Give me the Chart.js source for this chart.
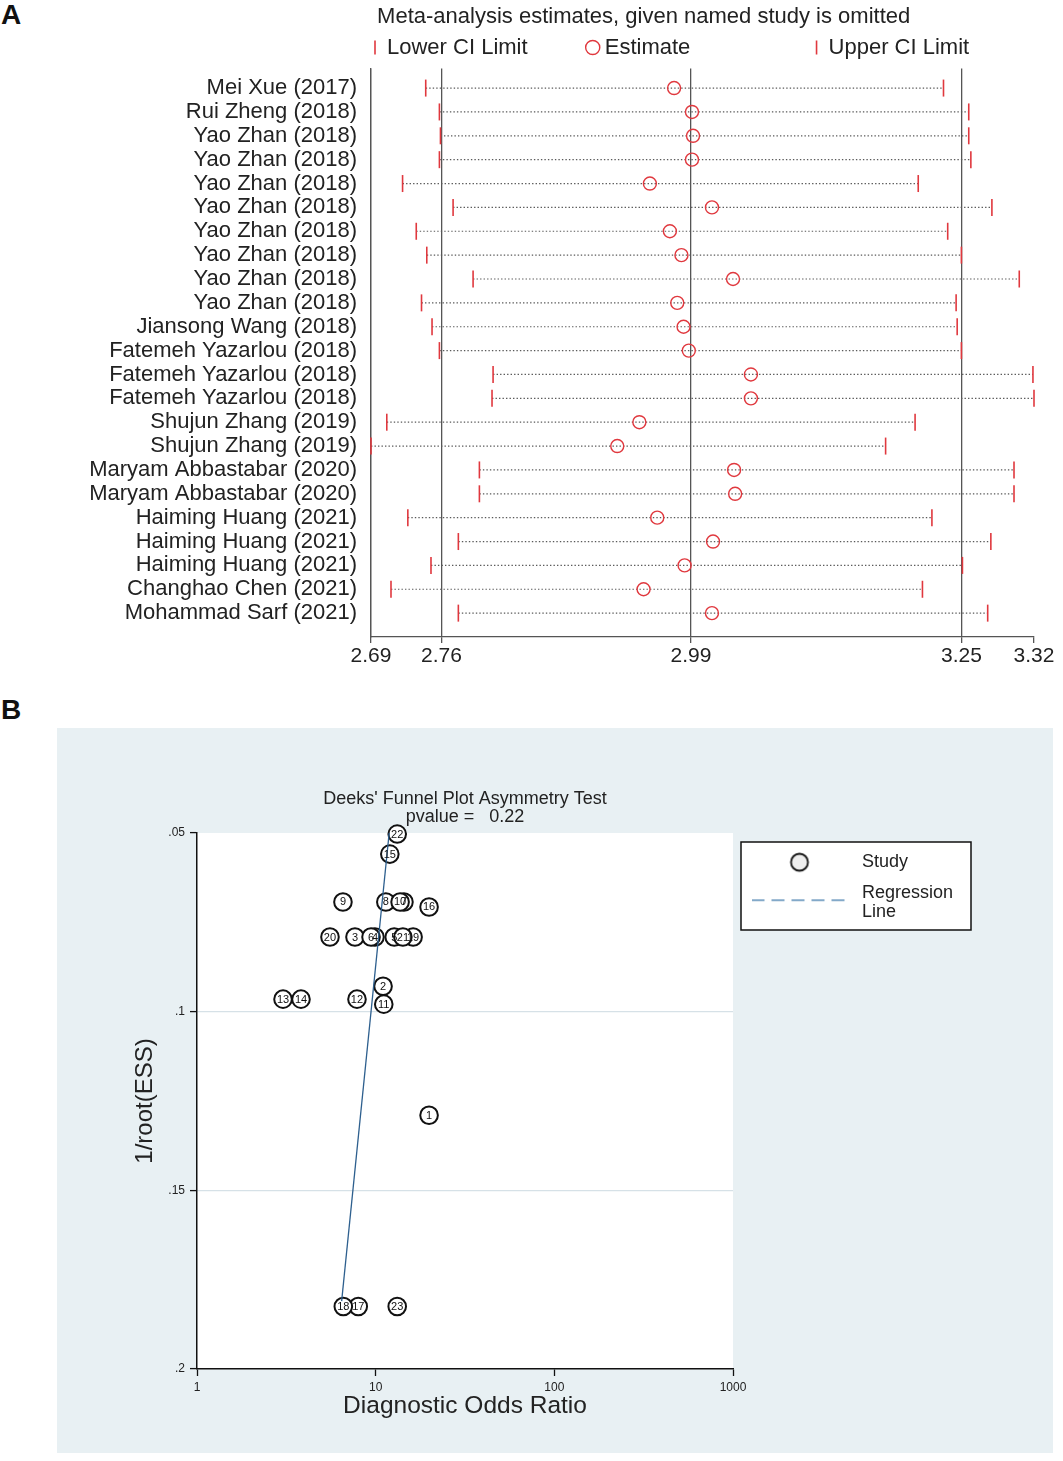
<!DOCTYPE html>
<html><head><meta charset="utf-8">
<script src="https://cdn.jsdelivr.net/npm/chart.js@4.4.0/dist/chart.umd.min.js"></script>
<style>
html,body{margin:0;padding:0;background:#fff;width:1063px;height:1461px;overflow:hidden;font-family:"Liberation Sans",Arial,sans-serif;}
.panel-label{position:absolute;font-weight:bold;font-size:28px;line-height:28px;color:#111;}
#wrapA{position:absolute;left:0;top:0;width:1063px;height:690px;}
#wrapB{position:absolute;left:57px;top:728px;width:996px;height:725px;}
</style></head><body>
<div class="panel-label" style="left:1px;top:1px">A</div>
<div class="panel-label" style="left:1px;top:696px">B</div>
<div id="wrapA"><canvas id="chartA"></canvas></div>
<div id="wrapB"><canvas id="chartB"></canvas></div>
<script>
// ---------- Panel A data ----------
const studies = ['Mei Xue (2017)','Rui Zheng (2018)','Yao Zhan (2018)','Yao Zhan (2018)','Yao Zhan (2018)','Yao Zhan (2018)','Yao Zhan (2018)','Yao Zhan (2018)','Yao Zhan (2018)','Yao Zhan (2018)','Jiansong Wang (2018)','Fatemeh Yazarlou (2018)','Fatemeh Yazarlou (2018)','Fatemeh Yazarlou (2018)','Shujun Zhang (2019)','Shujun Zhang (2019)','Maryam Abbastabar (2020)','Maryam Abbastabar (2020)','Haiming Huang (2021)','Haiming Huang (2021)','Haiming Huang (2021)','Changhao Chen (2021)','Mohammad Sarf (2021)'];
const lowerCI  = [2.742,2.755,2.756,2.755,2.720,2.768,2.733,2.743,2.787,2.738,2.748,2.755,2.806,2.805,2.705,2.690,2.793,2.793,2.725,2.773,2.747,2.709,2.773];
const estimate = [2.978,2.995,2.996,2.995,2.955,3.014,2.974,2.985,3.034,2.981,2.987,2.992,3.051,3.051,2.945,2.924,3.035,3.036,2.962,3.015,2.988,2.949,3.014];
const upperCI  = [3.234,3.258,3.258,3.260,3.210,3.280,3.238,3.251,3.306,3.246,3.247,3.251,3.319,3.320,3.207,3.179,3.301,3.301,3.223,3.279,3.252,3.214,3.276];
const axisATicks = [2.69, 2.757, 2.994, 3.251, 3.32];
const axisATickLabels = ['2.69','2.76','2.99','3.25','3.32'];

// ---------- Panel B data ----------
const studyIds   = [1,2,3,4,5,6,7,8,9,10,11,12,13,14,15,16,17,18,19,20,21,22,23];
const dor        = [19.9,11.0,7.66,9.91,12.7,9.42,14.4,11.4,6.56,13.7,11.1,7.86,3.03,3.82,12.0,19.9,7.99,6.59,16.2,5.55,14.2,13.2,13.2];
const invRootEss = [0.129,0.0929,0.0791,0.0791,0.0791,0.0791,0.0693,0.0693,0.0693,0.0693,0.0979,0.0965,0.0965,0.0965,0.0559,0.0707,0.1825,0.1825,0.0791,0.0791,0.0791,0.0503,0.1825];
const regDor        = [11.9, 6.45];
const regInvRootEss = [0.05, 0.181];
const yTicksB = [0.05, 0.1, 0.15, 0.2];
const yTickLabelsB = ['.05','.1','.15','.2'];
const xTicksB = [1, 10, 100, 1000];
const xTickLabelsB = ['1','10','100','1000'];

Chart.defaults.font.family = '"Liberation Sans", Arial, sans-serif';
Chart.defaults.color = '#222';
Chart.defaults.animation = false;

const RED = '#e0383e';

// ---------- Chart A ----------
const ciLines = [];
studies.forEach((s, i) => {
  ciLines.push({x: lowerCI[i], y: i}, {x: upperCI[i], y: i}, {x: upperCI[i], y: null});
});

new Chart(document.getElementById('chartA'), {
  type: 'scatter',
  data: {
    datasets: [
      {label: 'Lower CI Limit          ', data: studies.map((s, i) => ({x: lowerCI[i], y: i})),
       pointStyle: 'line', pointRotation: 90, pointRadius: 8.5, pointHoverRadius: 8.5,
       borderColor: RED, backgroundColor: RED, borderWidth: 1.6, clip: false, order: 1},
      {label: 'Estimate                    ', data: studies.map((s, i) => ({x: estimate[i], y: i})),
       pointStyle: 'circle', pointRadius: 6.5, pointHoverRadius: 6.5,
       borderColor: RED, backgroundColor: 'rgba(0,0,0,0)', borderWidth: 1.4, clip: false, order: 1},
      {label: 'Upper CI Limit', data: studies.map((s, i) => ({x: upperCI[i], y: i})),
       pointStyle: 'line', pointRotation: 90, pointRadius: 8.5, pointHoverRadius: 8.5,
       borderColor: RED, backgroundColor: RED, borderWidth: 1.6, clip: false, order: 1},
      {type: 'line', label: 'ci', data: ciLines, borderColor: '#5a5a5a', borderWidth: 1.2,
       borderDash: [1.4, 2.1], pointRadius: 0, spanGaps: false, fill: false, order: 5}
    ]
  },
  options: {
    responsive: true, maintainAspectRatio: false,
    layout: {padding: {left: 0, right: 29, top: 0, bottom: 13}},
    plugins: {
      tooltip: {enabled: false},
      title: {display: true, text: ' Meta-analysis estimates, given named study is omitted',
              align: 'start', fullSize: false, color: '#222',
              font: {size: 22, weight: 'normal'}, padding: {top: 3.8, bottom: 3.3}},
      legend: {display: true, position: 'top', align: 'start', fullSize: false,
               labels: {usePointStyle: true, boxWidth: 2, boxHeight: 10, padding: 3, color: '#222',
                        font: {size: 22}, filter: item => item.datasetIndex < 3,
                        sort: (a, b) => a.datasetIndex - b.datasetIndex}}
    },
    scales: {
      x: {type: 'linear', min: 2.69, max: 3.32, position: 'bottom',
          afterBuildTicks: s => { s.ticks = axisATicks.map(v => ({value: v})); },
          ticks: {autoSkip: false, maxRotation: 0, font: {size: 21}, color: '#222', padding: 1,
                  callback: (v, i) => axisATickLabels[i]},
          grid: {color: c => c.index === 4 ? 'rgba(0,0,0,0)' : '#555', lineWidth: 1.3,
                 tickLength: 6, tickColor: '#555', tickWidth: 1.3},
          border: {display: true, color: '#555', width: 1.3},
          afterFit: s => { s.height = 40; }},
      y: {type: 'linear', reverse: true, min: -0.82, max: 23,
          afterBuildTicks: s => { s.ticks = studies.map((_, i) => ({value: i})); },
          ticks: {autoSkip: false, font: {size: 22}, color: '#222', padding: 14,
                  callback: (v, i) => studies[i]},
          grid: {display: false, drawTicks: false},
          border: {display: true, color: '#555', width: 1.3},
          afterFit: s => { s.width = 371; }}
    }
  }
});

// ---------- Chart B ----------
function circleMarker() {
  const c = document.createElement('canvas'); c.width = 22; c.height = 22;
  const g = c.getContext('2d');
  g.beginPath(); g.arc(11, 11, 8.5, 0, Math.PI * 2);
  g.fillStyle = '#eeeeee'; g.fill(); g.lineWidth = 1.8; g.strokeStyle = '#111'; g.stroke();
  return c;
}
function dashMarker() {
  const c = document.createElement('canvas'); c.width = 96; c.height = 32;
  const g = c.getContext('2d');
  g.setLineDash([13, 7]); g.strokeStyle = '#5b8db8'; g.lineWidth = 1.4;
  g.beginPath(); g.moveTo(0, 23); g.lineTo(96, 23); g.stroke();
  return c;
}
const markers = [circleMarker(), dashMarker()];

const legendWidthFix = {
  id: 'legendWidthFix',
  beforeLayout(chart) {
    const lg = chart.legend;
    if (lg && !lg.__fixed) {
      const f = lg.fit;
      lg.fit = function () { f.call(this); this.width = 320; };
      lg.__fixed = true;
    }
  }
};
const panelBg = {
  id: 'panelBg',
  beforeDraw(chart) {
    const {ctx, chartArea: a, width, height} = chart;
    ctx.save();
    ctx.fillStyle = '#e8f0f3'; ctx.fillRect(0, 0, width, height);
    ctx.fillStyle = '#ffffff'; ctx.fillRect(a.left, a.top, a.right - a.left, a.bottom - a.top);
    const bx = a.right + 8, by = a.top + 9;
    ctx.fillRect(bx, by, 230, 88);
    ctx.strokeStyle = '#111'; ctx.lineWidth = 1.5; ctx.strokeRect(bx, by, 230, 88);
    ctx.restore();
  }
};
const pointLabels = {
  id: 'pointLabels',
  afterDatasetsDraw(chart) {
    const meta = chart.getDatasetMeta(0);
    const ctx = chart.ctx;
    ctx.save();
    ctx.font = '11px "Liberation Sans", Arial, sans-serif';
    ctx.fillStyle = '#111'; ctx.textAlign = 'center'; ctx.textBaseline = 'middle';
    meta.data.forEach((el, i) => { ctx.fillText(String(studyIds[i]), el.x, el.y + 0.5); });
    ctx.restore();
  }
};

new Chart(document.getElementById('chartB'), {
  type: 'scatter',
  data: {
    datasets: [
      {label: 'Study', data: dor.map((d, i) => ({x: d, y: invRootEss[i]})),
       pointStyle: 'circle', pointRadius: 8.8, pointHoverRadius: 8.8,
       borderColor: '#111', backgroundColor: '#fff', borderWidth: 2, clip: false, order: 2},
      {type: 'line', label: ['Regression', 'Line'], data: regDor.map((d, i) => ({x: d, y: regInvRootEss[i]})),
       borderColor: '#2d5f8e', borderWidth: 1.3, pointRadius: 0, fill: false, order: 1}
    ]
  },
  options: {
    responsive: true, maintainAspectRatio: false,
    layout: {padding: {left: 73.6, right: 0, top: 0, bottom: 31.6}},
    plugins: {
      tooltip: {enabled: false},
      title: {display: true, text: ["Deeks' Funnel Plot Asymmetry Test", 'pvalue =   0.22'],
              align: 'center', fullSize: false, color: '#222',
              font: {size: 18, weight: 'normal', lineHeight: 1.0}, padding: {top: 62, bottom: 7}},
      legend: {display: true, position: 'right', align: 'start', fullSize: false,
               title: {display: true, text: ' ', font: {size: 1}, padding: {top: 6, bottom: 0}},
               labels: {usePointStyle: true, pointStyleWidth: 107, padding: 13, color: '#222',
                        font: {size: 18, lineHeight: 1.05},
                        sort: (a, b) => a.datasetIndex - b.datasetIndex,
                        generateLabels: chart => {
                          const items = Chart.defaults.plugins.legend.labels.generateLabels(chart);
                          items.forEach(it => { it.pointStyle = markers[it.datasetIndex]; });
                          return items;
                        }}}
    },
    scales: {
      x: {type: 'logarithmic', min: 1, max: 1000, position: 'bottom',
          afterBuildTicks: s => { s.ticks = xTicksB.map(v => ({value: v})); },
          ticks: {autoSkip: false, maxRotation: 0, font: {size: 12}, color: '#222', padding: 4,
                  callback: (v, i) => xTickLabelsB[i]},
          grid: {drawOnChartArea: false, tickLength: 7, tickColor: '#111', color: '#111', tickWidth: 1.3},
          border: {display: true, color: '#111', width: 1.5},
          title: {display: true, text: 'Diagnostic Odds Ratio', font: {size: 24.5}, color: '#222', padding: 0},
          afterFit: s => { s.height = 52.4; }},
      y: {type: 'linear', reverse: true, min: 0.05, max: 0.2,
          afterBuildTicks: s => { s.ticks = yTicksB.map(v => ({value: v})); },
          ticks: {autoSkip: false, font: {size: 12}, color: '#222', padding: 5,
                  callback: (v, i) => yTickLabelsB[i]},
          grid: {color: c => (c.index === 1 || c.index === 2) ? '#d6e1e7' : 'rgba(0,0,0,0)',
                 lineWidth: 1.2, tickLength: 7, tickColor: '#111', tickWidth: 1.3},
          border: {display: true, color: '#111', width: 1.5},
          title: {display: true, text: '1/root(ESS)', font: {size: 24}, color: '#222', padding: 0},
          afterFit: s => { s.width = 66.4; }}
    }
  },
  plugins: [legendWidthFix, panelBg, pointLabels]
});
</script>
</body></html>
